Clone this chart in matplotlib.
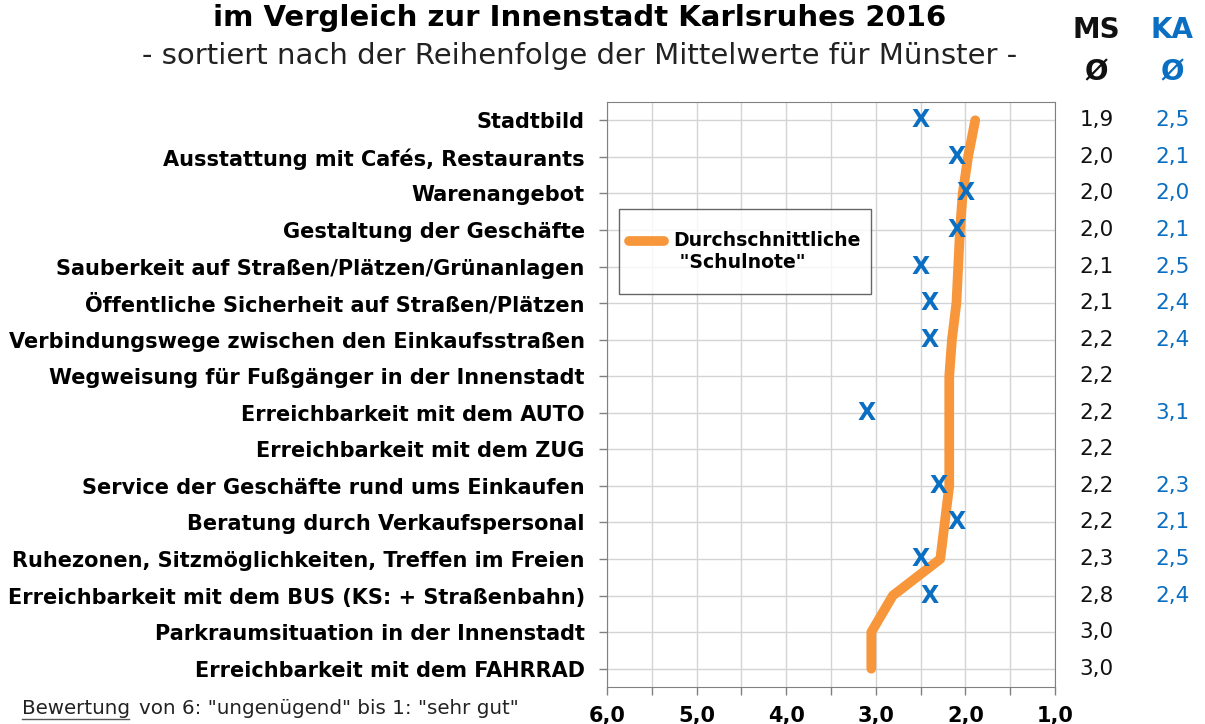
import matplotlib.pyplot as plt
from matplotlib.transforms import blended_transform_factory
from matplotlib.lines import Line2D
from matplotlib.legend_handler import HandlerLine2D
from matplotlib.path import Path

# -------- DATEN --------
kategorien = [
    "Stadtbild",
    "Ausstattung mit Cafés, Restaurants",
    "Warenangebot",
    "Gestaltung der Geschäfte",
    "Sauberkeit auf Straßen/Plätzen/Grünanlagen",
    "Öffentliche Sicherheit auf Straßen/Plätzen",
    "Verbindungswege zwischen den Einkaufsstraßen",
    "Wegweisung für Fußgänger in der Innenstadt",
    "Erreichbarkeit mit dem AUTO",
    "Erreichbarkeit mit dem ZUG",
    "Service der Geschäfte rund ums Einkaufen",
    "Beratung durch Verkaufspersonal",
    "Ruhezonen, Sitzmöglichkeiten, Treffen im Freien",
    "Erreichbarkeit mit dem BUS (KS: + Straßenbahn)",
    "Parkraumsituation in der Innenstadt",
    "Erreichbarkeit mit dem FAHRRAD",
]
ms_linie = [1.89, 1.97, 2.03, 2.06, 2.08, 2.10, 2.15, 2.18, 2.18, 2.18, 2.18,
            2.23, 2.28, 2.81, 3.05, 3.05]
# Münster (angezeigte Werte)
ms_text = ["1,9", "2,0", "2,0", "2,0", "2,1", "2,1", "2,2", "2,2", "2,2", "2,2",
           "2,2", "2,2", "2,3", "2,8", "3,0", "3,0"]
# Karlsruhe (None = kein Wert)
ka = [2.5, 2.1, 2.0, 2.1, 2.5, 2.4, 2.4, None, 3.1, None, 2.3, 2.1, 2.5, 2.4,
      None, None]
xticks = [6.0, 5.0, 4.0, 3.0, 2.0, 1.0]

orange = "#F7963B"
blau = "#0A6FC2"


# Legendenlinie auf Höhe der ersten Textzeile
class HandlerOben(HandlerLine2D):
    def create_artists(self, legend, orig_handle, xdescent, ydescent, width,
                       height, fontsize, trans):
        arts = super().create_artists(legend, orig_handle, xdescent, ydescent,
                                      width, height, fontsize, trans)
        for a in arts:
            a.set_ydata([v + 0.6 * fontsize for v in a.get_ydata()])
        return arts


# Legendenrahmen: oben/unten mehr Luft als seitlich
def rahmen(x0, y0, width, height, mutation_size):
    d = 0.6 * mutation_size
    return Path([(x0, y0 - d), (x0 + width, y0 - d), (x0 + width, y0 + height + d),
                 (x0, y0 + height + d), (x0, y0 - d)], closed=True)


# -------- GRAFIK --------
fig = plt.figure(figsize=(12.05, 7.24), dpi=100)
ax = fig.add_axes([0.5037, 0.0511, 0.3718, 0.808])

y = list(range(len(kategorien)))
linie, = ax.plot(ms_linie, y, color=orange, lw=7, solid_capstyle="round",
                 solid_joinstyle="round", label='Durchschnittliche\n "Schulnote"',
                 zorder=3)

for i, v in enumerate(ka):
    if v is not None:
        ax.text(v, i, "X", color=blau, fontsize=17, fontweight="bold",
                ha="center", va="center", zorder=4)

ax.set_xlim(6, 1)
ax.set_ylim(len(kategorien) - 0.5, -0.5)
halb = [6.0 - 0.5 * k for k in range(11)]
ax.set_xticks(halb)
ax.set_xticklabels([f"{t:.1f}".replace(".", ",") if t in xticks else ""
                    for t in halb], fontsize=15, fontweight="bold")
ax.set_yticks(y)
ax.set_yticklabels(kategorien, fontsize=15, fontweight="bold")
ax.tick_params(axis="both", direction="out", length=6, color="#808080", width=1)
ax.tick_params(axis="x", pad=8)
ax.tick_params(axis="y", pad=10)
ax.grid(True, color="#D4D4D4", lw=1)
ax.set_axisbelow(True)
for s in ax.spines.values():
    s.set_color("#808080")

leg = ax.legend(loc="upper left", bbox_to_anchor=(0.027, 0.797), fontsize=13.6,
                frameon=True, fancybox=False, edgecolor="#404040",
                handlelength=1.85, handletextpad=0.45, borderpad=0.55,
                borderaxespad=0, handler_map={linie: HandlerOben()})
for t in leg.get_texts():
    t.set_fontweight("bold")
leg.get_frame().set_linewidth(1)
leg.get_frame().set_boxstyle(rahmen)

# -------- SPALTEN RECHTS --------
tr = blended_transform_factory(fig.transFigure, ax.transData)
for i, t in enumerate(ms_text):
    ax.text(0.910, i, t, transform=tr, ha="center", va="center", fontsize=15.5,
            color="#111111", clip_on=False)
for i, v in enumerate(ka):
    if v is not None:
        ax.text(0.973, i, f"{v:.1f}".replace(".", ","), transform=tr,
                ha="center", va="center", fontsize=15.5, color=blau, clip_on=False)

fig.text(0.910, 0.958, "MS", ha="center", va="center", fontsize=20,
         fontweight="bold", color="#111111")
fig.text(0.910, 0.900, "Ø", ha="center", va="center", fontsize=20,
         fontweight="bold", color="#111111")
fig.text(0.973, 0.958, "KA", ha="center", va="center", fontsize=20,
         fontweight="bold", color=blau)
fig.text(0.973, 0.900, "Ø", ha="center", va="center", fontsize=20,
         fontweight="bold", color=blau)

# -------- TITEL --------
fig.text(0.481, 0.975, "im Vergleich zur Innenstadt Karlsruhes 2016",
         ha="center", va="center", fontsize=21, fontweight="bold")
fig.text(0.481, 0.922, "- sortiert nach der Reihenfolge der Mittelwerte für Münster -",
         ha="center", va="center", fontsize=21, color="#222222")

# -------- FUSSNOTE --------
fig.text(0.018, 0.022, "Bewertung", ha="left", va="center", fontsize=14.3,
         color="#222222")
fig.text(0.115, 0.022, 'von 6: "ungenügend" bis 1: "sehr gut"', ha="left",
         va="center", fontsize=14.3, color="#222222")
fig.add_artist(Line2D([0.018, 0.107], [0.007, 0.007], color="#555555", lw=1))

fig.savefig("out.png", dpi=100)
